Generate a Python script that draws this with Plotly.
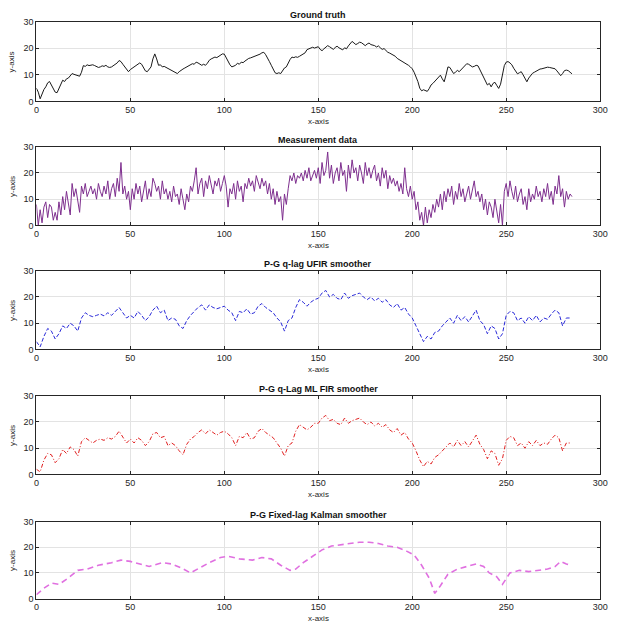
import plotly.graph_objects as go

# ---------------- data ----------------
gt_x = list(range(0, 286))
gt_y = [
    5, 3.5, 1, 3, 4.5, 5.5, 7, 7.5, 6, 4.5,
    3.5, 3.3, 5, 6, 8, 7.5, 8.5, 8.8, 9.5, 10.5,
    10.2, 10, 9.7, 9.5, 11, 13.5, 13.2, 13.8, 13.5, 13.6,
    13.8, 13.5, 13.2, 12.8, 13, 13.4, 13.2, 13.6, 13, 12.8,
    13, 13.5, 14, 14.5, 15.4, 15, 14, 13.2, 12, 11.2,
    12, 12.5, 13, 13.6, 14.2, 14.5, 14, 12.8, 11.5, 11.2,
    12.2, 13, 16, 17.9, 16, 13.6, 13.8, 13, 13.2, 12.8,
    12.5, 12.2, 11.8, 11.5, 11, 10.5, 11.2, 11.8, 12.2, 12.6,
    13, 13.4, 13.8, 14.2, 14, 14.8, 14.5, 14, 13.6, 14,
    13.6, 14.4, 15.5, 16, 16.3, 16.7, 16.5, 17, 17.5, 17.9,
    17.8, 16.5, 15, 13.8, 13, 13.2, 13.6, 14.4, 14, 14.8,
    14.6, 15.2, 15.8, 16.2, 16.4, 16.7, 16.9, 17.1, 17.3, 17.8,
    18.3, 18.5, 17.6, 16.5, 15, 13.6, 12, 10.8, 10.5, 10.8,
    10.5, 11.5, 12.6, 13, 14.5, 15.8, 16.7, 16.5, 16.8, 16.6,
    17, 17.5, 17.9, 18.3, 19.5, 19.8, 20.2, 20.4, 20.1, 20.4,
    20.6, 19.6, 19.1, 19.8, 20.5, 21, 20.6, 20, 19.6, 20.3,
    20.8, 20.2, 19.7, 19.4, 20.2, 19.8, 20.9, 21.8, 22.6, 22,
    21.4, 21.8, 22.3, 22.1, 21.5, 21, 21.6, 22, 21.4, 21.2,
    21, 20.5, 20.9, 20.2, 19.6, 19.9, 19, 18.5, 18.2, 17.8,
    17.3, 17, 16.2, 15.8, 15.4, 15, 14.6, 14, 13.6, 13,
    12.3, 11, 9.5, 7.5, 5, 4, 4.4, 4.2, 3.8, 4.8,
    6.2, 6.8, 7.5, 8.3, 9.2, 9.9, 8.5, 7.4, 10, 13,
    12.8, 11.5, 10.5, 11, 11.7, 11.2, 12, 12.8, 13.5, 14.2,
    14, 13.5, 13, 13.2, 13.6, 13.4, 12, 10.5, 9.5, 7.5,
    6.2, 6.8, 5.5, 6.8, 7.2, 6, 4.9, 6.5, 10.5, 13.5,
    14.8, 15, 14.5, 13.8, 12.5, 11.5, 10.4, 10.8, 11.2, 10,
    8.5, 7.4, 8.8, 9.9, 10.6, 11, 11.5, 11.8, 12.2, 12.3,
    12.5, 12.7, 12.9, 12.8, 12.6, 12.4, 12.3, 11.5, 10.5, 9.7,
    10.5, 11.6, 11.8, 11.6, 11, 10.4,
]

meas_x = list(range(0, 286))
meas_y = [
    8, 0, 6, 1, 7, 9, 3, 8, 7, 2,
    5, 2, 9, 4, 11, 6, 13, 8, 4, 16,
    11, 14, 10, 5, 15, 12, 16, 11, 13, 15,
    12, 14, 10, 16, 13, 11, 15, 12, 17, 10,
    14, 16, 11, 18, 13, 24, 12, 15, 10, 13,
    6, 14, 10, 16, 12, 15, 9, 13, 17, 10,
    14, 11, 18, 16, 13, 15, 10, 17, 12, 14,
    10, 13, 9, 15, 11, 12, 8, 14, 10, 6,
    12, 9, 15, 13, 17, 22, 12, 16, 18, 11,
    17, 14, 19, 16, 12, 17, 15, 18, 13, 16,
    19, 15, 7, 14, 12, 16, 10, 17, 13, 15,
    9, 16, 14, 18, 15, 17, 13, 19, 16, 14,
    18, 15, 17, 12, 16, 10, 14, 8, 13, 9,
    11, 2, 12, 8, 14, 19, 17, 20, 16, 19,
    18, 20, 17, 21, 18, 22, 17, 19, 21, 18,
    22, 16, 24, 19, 21, 28, 18, 23, 16, 20,
    22, 17, 24, 19, 21, 13, 23, 18, 25, 20,
    22, 17, 23, 20, 16, 24, 19, 22, 18, 21,
    23, 17, 20, 15, 22, 18, 21, 14, 19, 16,
    18, 15, 17, 13, 16, 12, 22, 14, 11, 15,
    10, 13, 6, 9, 2, 5, 0, 7, 1, 6,
    3, 8, 5, 10, 7, 12, 6, 13, 9, 14,
    11, 15, 8, 13, 10, 16, 11, 14, 9, 12,
    15, 10, 14, 17, 11, 13, 9, 12, 6, 10,
    4, 9, 7, 3, 10, 5, 1, 8, 0, 13,
    16, 11, 17, 13, 10, 15, 9, 12, 14, 8,
    11, 6, 14, 9, 12, 10, 15, 11, 13, 9,
    14, 11, 16, 10, 13, 8, 15, 12, 19, 11,
    14, 7, 13, 10, 12, 11,
]

ufir_x = list(range(0, 285, 2))
ufir_y = [
    3, 1, 5, 8, 7, 4, 6, 9, 8, 10,
    9, 7, 12, 14, 13, 12.5, 13, 13.5, 12.8, 14,
    13, 14.5, 16, 14, 12, 13, 12, 14.5, 13, 11,
    12.5, 15, 16.5, 14, 15, 11, 12, 11.5, 9, 8,
    11, 13, 14.5, 16, 17, 15, 17, 16, 15.5, 16,
    16.5, 15, 14, 11, 14.5, 14, 15.5, 13.5, 14, 16.5,
    17.5, 16, 15, 14, 12, 10.5, 7, 11, 12, 16,
    19, 18, 16.5, 18, 19, 19.5, 21.5, 22.5, 20, 21,
    19.5, 19, 21.5, 19.5, 20.5, 21, 21.5, 20, 19, 20,
    18.5, 19.5, 18, 19, 17, 16, 17.5, 15, 16, 13.5,
    12, 9, 6, 3, 5, 4, 6.5, 7, 9, 10.5,
    12, 10, 13, 11, 12.5, 10.5, 13, 15, 11, 9.5,
    6, 9, 8, 4, 6, 13, 14.5, 14, 11, 12,
    10, 12.5, 11, 13, 10.5, 12, 11.5, 13.5, 15, 14,
    9, 12, 12,
]

mlfir_x = list(range(0, 285, 2))
mlfir_y = [
    2, 1, 5.5, 8, 7.5, 4.5, 6, 9.5, 8, 10.5,
    9.5, 7, 12.5, 14, 13, 12, 13, 13.5, 13, 14,
    13.5, 14.5, 16.5, 14, 12, 13.5, 12, 14, 13, 11,
    12.5, 15.5, 16, 14, 14.5, 11, 12, 11, 9, 7.5,
    11.5, 13.5, 14.5, 16, 17, 15.5, 17, 16, 15, 16,
    16.5, 15.5, 14, 11, 14.5, 14, 16, 13.5, 14, 16.5,
    17.5, 16, 15, 14, 12, 10, 7, 11, 12, 16.5,
    19, 18, 17, 18, 19.5, 19.5, 21.5, 22.5, 20.5, 21,
    19.5, 19, 21.5, 19.5, 20.5, 21, 21.5, 20, 19, 20,
    18.5, 19.5, 18, 19, 17, 16, 17.5, 15, 16, 13.5,
    12, 9, 5.5, 3, 5, 4, 6.5, 7.5, 9, 10.5,
    12, 10.5, 13, 11, 12.5, 10.5, 13, 15, 11.5, 9.5,
    6, 9, 8, 3.5, 6, 13, 14.5, 14, 11, 12,
    10, 12.5, 11, 13, 11, 12, 11.5, 13.5, 15, 14,
    9, 12, 12,
]

kal_x = [0, 4, 8, 12, 17, 22, 27, 33, 40, 45, 50, 55, 60, 67, 72, 77, 82, 87,
         92, 98, 102, 108, 115, 120, 125, 130, 135, 138, 142, 147, 152, 157,
         162, 167, 172, 177, 182, 187, 192, 197, 201, 205, 209, 212, 215, 219,
         224, 229, 234, 238, 241, 245, 248, 252, 257, 262, 267, 272, 276, 279,
         282, 285]
kal_y = [1.5, 4, 6, 5.5, 8, 11, 11.5, 13, 14, 15, 14.5, 13.5, 12.5, 14, 13.5,
         12, 10, 12, 14, 16, 16.5, 15.5, 15, 16, 15.5, 13, 11, 11.5, 14, 16.5,
         19, 20.5, 21, 21.5, 22, 22, 21.5, 20.5, 20, 18.5, 17, 13, 8, 2, 5,
         9.5, 11.5, 12.5, 13.5, 12.5, 10, 8.5, 5.5, 10, 11, 10.5, 11, 11.5,
         12.5, 14.5, 13.5, 13]

titles = ["Ground truth", "Measurement data", "P-G q-lag UFIR smoother",
          "P-G q-Lag ML FIR smoother", "P-G Fixed-lag Kalman smoother"]
x_ticks = [0, 50, 100, 150, 200, 250, 300]
y_ticks = [0, 10, 20, 30]

# ---------------- layout geometry (pixels) ----------------
W, H = 617, 635
left_px, right_px = 34, 608
panels_px = [(17, 98), (144, 224), (270, 350), (397, 477), (525, 603)]

series = [
    (gt_x, gt_y, dict(color="#1a1a1a", width=1, dash="solid")),
    (meas_x, meas_y, dict(color="#7E2F8E", width=1, dash="solid")),
    (ufir_x, ufir_y, dict(color="#2a2ad8", width=1, dash="4px,2px")),
    (mlfir_x, mlfir_y, dict(color="#e02020", width=1, dash="4px,2px,1px,2px")),
    (kal_x, kal_y, dict(color="#e070e0", width=1.6, dash="6px,4px")),
]

fig = go.Figure()
FONT = "Liberation Sans, Arial, sans-serif"
axis_color = "#262626"

annotations = []
for i, ((xs, ys, line), (top, bot)) in enumerate(zip(series, panels_px)):
    n = "" if i == 0 else str(i + 1)
    fig.add_trace(go.Scatter(x=xs, y=ys, mode="lines", line=line,
                             xaxis="x" + n, yaxis="y" + n, showlegend=False))
    xdom = [left_px / W, right_px / W]
    ydom = [1 - bot / H, 1 - top / H]
    common = dict(showline=True, mirror="ticks", linecolor=axis_color, linewidth=1,
                  ticks="inside", ticklen=3, tickcolor=axis_color,
                  showgrid=True, gridcolor="#e3e3e3", gridwidth=1, zeroline=False,
                  tickfont=dict(size=9, color=axis_color, family=FONT))
    fig.update_layout(**{
        "xaxis" + n: dict(domain=xdom, range=[0, 300], tickvals=x_ticks,
                          anchor="y" + n, **common),
        "yaxis" + n: dict(domain=ydom, range=[0, 30], tickvals=y_ticks,
                          anchor="x" + n, **common),
    })
    cx = (left_px + right_px) / 2 / W
    annotations.append(dict(text="<b>" + titles[i] + "</b>", x=cx, y=1 - (top - 7) / H,
                            xref="paper", yref="paper", showarrow=False,
                            font=dict(size=9, color="#111111", family=FONT),
                            xanchor="center", yanchor="middle"))
    annotations.append(dict(text="x-axis", x=cx, y=1 - (bot + 20) / H,
                            xref="paper", yref="paper", showarrow=False,
                            font=dict(size=8, color=axis_color, family=FONT),
                            xanchor="center", yanchor="middle"))
    annotations.append(dict(text="y-axis", x=9 / W, y=1 - (top + bot) / 2 / H,
                            xref="paper", yref="paper", showarrow=False, textangle=-90,
                            font=dict(size=8, color=axis_color, family=FONT),
                            xanchor="center", yanchor="middle"))

fig.update_layout(width=W, height=H, margin=dict(l=0, r=0, t=0, b=0),
                  paper_bgcolor="white", plot_bgcolor="white",
                  annotations=annotations, font=dict(family=FONT))
fig.write_html("out.html")
